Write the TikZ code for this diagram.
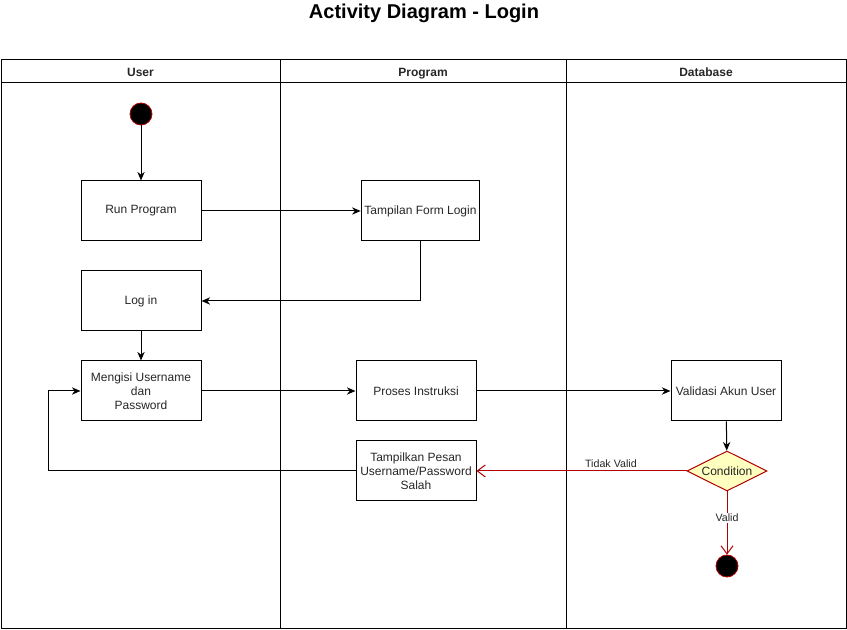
\documentclass[tikz,border=0pt]{standalone}
\usepackage{fontspec}
\setmainfont{Liberation Sans}
\usetikzlibrary{arrows.meta,shapes.geometric}
\definecolor{dred}{HTML}{B20000}
\definecolor{cyel}{HTML}{FFFFC0}
\begin{document}
\begin{tikzpicture}[x=0.75pt,y=-0.75pt,
  every node/.style={font=\fontsize{9}{10.5}\selectfont,text=black!85},
  actbox/.style={draw,line width=0.75pt,minimum width=90pt,minimum height=45pt,inner sep=0pt,align=center},
  lanehead/.style={font=\fontsize{9}{10.5}\selectfont\bfseries,text height=1.5ex,text depth=0.3ex},
  flow/.style={line width=0.75pt,-{Stealth[length=6.5pt,width=5.5pt]}},
  rflow/.style={line width=0.75pt,draw=dred,-{Straight Barb[length=6pt,width=9pt]}},
  dot/.style={circle,fill=black,draw=dred,line width=0.6pt,minimum size=16.5pt,inner sep=0pt}]
\useasboundingbox (0,0) rectangle (847,630);
% title
\node[font=\fontsize{15}{18}\selectfont\bfseries,text=black] (title) at (424,13) {Activity Diagram - Login};
% pool
\draw[line width=0.75pt] (1,60) rectangle (846,629);
\draw[line width=0.75pt] (1,83) -- (846,83);
\draw[line width=0.75pt] (280,60) -- (280,629);
\draw[line width=0.75pt] (566,60) -- (566,629);
\node[lanehead] (hu) at (140.5,72) {User};
\node[lanehead] (hp) at (423,72) {Program};
\node[lanehead] (hd) at (706,72) {Database};
% nodes
\node[dot] (start) at (141,114) {};
\node[actbox] (run) at (141,211) {Run Program};
\node[actbox,minimum width=89pt] (form) at (420.5,211) {Tampilan Form Login};
\node[actbox] (login) at (141,301) {Log in};
\node[actbox] (isi) at (141,391) {Mengisi Username\\dan\\Password};
\node[actbox] (proses) at (416,391) {Proses Instruksi};
\node[actbox] (pesan) at (416,471) {Tampilkan Pesan\\Username/Password\\Salah};
\node[actbox,minimum width=82.5pt] (valid) at (726,391) {Validasi Akun User};
\node[diamond,draw=dred,fill=cyel,line width=0.75pt,minimum width=60pt,minimum height=30pt,inner sep=0pt,aspect=2] (cond) at (727,471) {Condition};
\node[dot] (end) at (727,566) {};
% edges
\draw[flow] (start) -- (run);
\draw[flow] (run) -- (form);
\draw[flow] (form.south) |- (login.east);
\draw[flow] (login) -- (isi);
\draw[flow] (isi) -- (proses);
\draw[flow] (proses) -- (valid);
\draw[flow] (valid) -- (cond);
\draw[rflow] (cond) -- node[above,pos=0.36,font=\fontsize{8}{9.5}\selectfont,inner sep=2pt] {Tidak Valid} (pesan);
\draw[rflow] (cond) -- node[fill=white,font=\fontsize{8}{9.5}\selectfont,inner sep=1pt,pos=0.42] {Valid} (end);
\coordinate (back) at (48,471);
\draw[flow] (pesan.west) -- (back) |- (isi.west);
\end{tikzpicture}
\end{document}
